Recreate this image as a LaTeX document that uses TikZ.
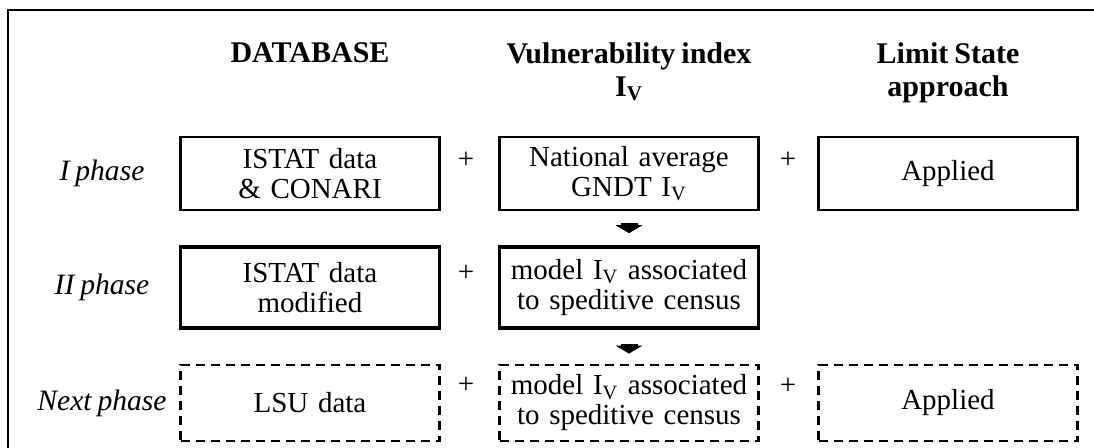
\documentclass[tikz,border=0pt]{standalone}
\usepackage{fontspec}
\setmainfont{Liberation Serif}[WordSpace=0.8]
\usetikzlibrary{positioning, arrows.meta}

\begin{document}
\begin{tikzpicture}[
        x=0.5pt, y=-0.5pt, on grid,
        font=\fontsize{14.5}{15}\selectfont,
        cell/.style={rectangle, draw=black, line width=1.2pt, text width=126pt, minimum width=129.5pt, align=center, inner sep=0pt},
        firstrow/.style={cell, minimum height=36.5pt},
        secondrow/.style={cell, line width=1.8pt, minimum height=40.5pt},
        nextrow/.style={cell, line width=1.4pt, dash pattern=on 4.5pt off 3pt, minimum height=38pt},
        head/.style={font=\fontsize{15}{16.5}\selectfont\bfseries, align=center, anchor=north, inner sep=0pt},
        phase/.style={font=\fontsize{14.8}{15}\selectfont\itshape, inner sep=0pt},
        plus/.style={inner sep=0pt},
        downarrow/.style={line width=8.5pt, -{Triangle[width=13.5pt, length=4pt, line width=0pt]}, shorten <=6pt, shorten >=6pt}
    ]

    \useasboundingbox (0,0) rectangle (1094,448);
    \draw [line width=1pt] (8,460) |- (1110,10);

    % first phase
    \node (ist1) [firstrow] at (310,173.5) {ISTAT data\\\& CONARI};
    \node (gndt) [firstrow, right=159.5pt of ist1] {National average\\GNDT I\textsubscript{V}};
    \node (lsa1) [firstrow, right=159.5pt of gndt] {Applied};

    % second phase
    \node (ist2) [secondrow, below=57pt of ist1] {ISTAT data\\modified};
    \node (vim2) [secondrow, right=159.5pt of ist2] {model I\textsubscript{V} associated\\to speditive census};

    % next phase
    \node (lsu) [nextrow, below=57.75pt of ist2] {LSU data};
    \node (vim3) [nextrow, right=159.5pt of lsu] {model I\textsubscript{V} associated\\to speditive census};
    \node (lsa3) [nextrow, right=159.5pt of vim3] {Applied};

    % column heads
    \coordinate (headtop) at (0,42);
    \node (hdb) [head] at (ist1 |- headtop) {DATABASE};
    \node (hvi) [head] at (gndt |- headtop) {Vulnerability index\\I\textsubscript{V}};
    \node (hls) [head] at (lsa1 |- headtop) {Limit State\\approach};

    % row labels
    \node (ph1) [phase, left=104pt of ist1] {I phase};
    \node (ph2) [phase, left=104pt of ist2] {II phase};
    \node (ph3) [phase, left=104pt of lsu] {Next phase};

    \node (plus11) [plus] at (466,160) {+};
    \node (plus12) [plus] at (788,160) {+};
    \node (plus21) [plus] at (466,273) {+};
    \node (plus31) [plus] at (466,385) {+};
    \node (plus32) [plus] at (788,386) {+};

    \draw [downarrow] (gndt) -- (vim2);
    \draw [downarrow, shorten <=7pt, shorten >=5pt] (vim2) -- (vim3);

\end{tikzpicture}
\end{document}
